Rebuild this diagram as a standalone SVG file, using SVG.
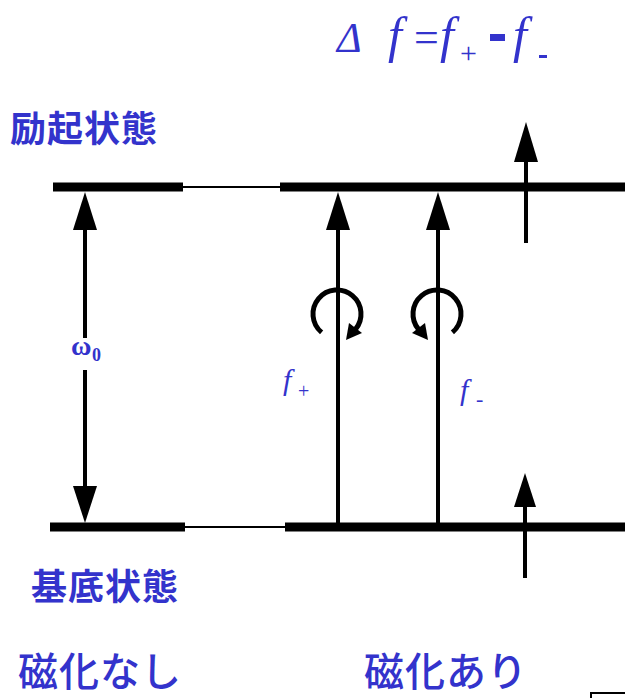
<svg xmlns="http://www.w3.org/2000/svg" width="625" height="698" viewBox="0 0 625 698">
<style>
.lvl{stroke:#000;stroke-width:9;fill:none}
.thin{stroke:#000;stroke-width:2;fill:none}
.shaft{stroke:#000;stroke-width:4;fill:none}
.ring{stroke:#000;stroke-width:5;fill:none}
.head{fill:#000}
.jp{font-family:"Noto Sans CJK JP","Noto Sans",sans-serif;fill:#3333CC}
.math{font-family:"Liberation Serif","DejaVu Serif","Times New Roman",serif;font-style:italic;fill:#3333CC}
.rm{font-family:"Liberation Serif","DejaVu Serif","Times New Roman",serif;fill:#3333CC}
</style>
<rect width="625" height="698" fill="#fff"/>
<g id="levels">
<line class="lvl" x1="53" y1="187" x2="183" y2="187"/>
<line class="thin" x1="183" y1="187" x2="280" y2="187"/>
<line class="lvl" x1="280" y1="187" x2="625" y2="187"/>
<line class="lvl" x1="50" y1="527" x2="185" y2="527"/>
<line class="thin" x1="185" y1="527" x2="285" y2="527"/>
<line class="lvl" x1="285" y1="527" x2="625" y2="527"/>
</g>
<g id="connectors">
<g id="omega-arrow">
<line class="shaft" x1="85" y1="228" x2="85" y2="338"/>
<line class="shaft" x1="85" y1="370" x2="85" y2="488"/>
<polygon class="head" points="85,192 73,230 97,230"/>
<polygon class="head" points="85,523 73,486 97,486"/>
</g>
<g id="fplus-arrow">
<line class="shaft" x1="338" y1="228" x2="338" y2="527"/>
<polygon class="head" points="338,192 326,230 350,230"/>
<path class="ring" d="M 321.6 332.4 A 24 24 0 1 1 355.4 329.4"/>
<polygon class="head" points="346,340 362,333 349,323"/>
</g>
<g id="fminus-arrow">
<line class="shaft" x1="438" y1="228" x2="438" y2="527"/>
<polygon class="head" points="438,192 426,230 450,230"/>
<path class="ring" d="M 452.4 332.4 A 24 24 0 1 0 418.6 329.4"/>
<polygon class="head" points="428,340 412,333 425,323"/>
</g>
<g id="spin-top">
<line class="shaft" x1="526" y1="160" x2="526" y2="243"/>
<polygon class="head" points="526,122 514,162 538,162"/>
</g>
<g id="spin-bottom">
<line class="shaft" x1="525" y1="505" x2="525" y2="578"/>
<polygon class="head" points="525,473 514,507 536,507"/>
</g>
</g>
<g id="label-excited"><text class="jp" x="10" y="142" font-size="36" font-weight="bold" letter-spacing="1">励起状態</text></g>
<g id="label-ground"><text class="jp" x="31" y="600" font-size="36" font-weight="bold" letter-spacing="1">基底状態</text></g>
<g id="label-nomag"><text class="jp" x="18" y="686" font-size="40" font-weight="500" letter-spacing="1">磁化なし</text></g>
<g id="label-mag"><text class="jp" x="364" y="686" font-size="40" font-weight="500" letter-spacing="1">磁化あり</text></g>
<g id="label-omega">
<text class="rm" font-weight="bold" font-size="28" x="71" y="355">ω</text>
<text class="rm" font-weight="bold" font-size="18" x="92" y="361">0</text>
</g>
<g id="label-fplus">
<text class="math" font-size="30" x="283" y="390">f</text>
<text class="rm" font-size="20" x="298" y="398">+</text>
</g>
<g id="label-fminus">
<text class="math" font-size="30" x="460" y="400">f</text>
<text class="rm" font-size="22" x="476" y="406">-</text>
</g>
<g id="formula">
<text class="math" font-size="42" x="337" y="52">Δ</text>
<text class="math" font-size="50" x="388" y="52">f</text>
<text class="rm" font-size="44" x="414" y="52">=</text>
<text class="math" font-size="50" x="440" y="52">f</text>
<text class="rm" font-size="30" x="460" y="63">+</text>
<rect x="490" y="34" width="15" height="7" fill="#3333CC"/>
<text class="math" font-size="50" x="513" y="52">f</text>
<rect x="539" y="55" width="8" height="3" fill="#3333CC"/>
</g>
<rect x="591" y="693" width="40" height="20" fill="#fff" stroke="#000" stroke-width="2"/>
</svg>
